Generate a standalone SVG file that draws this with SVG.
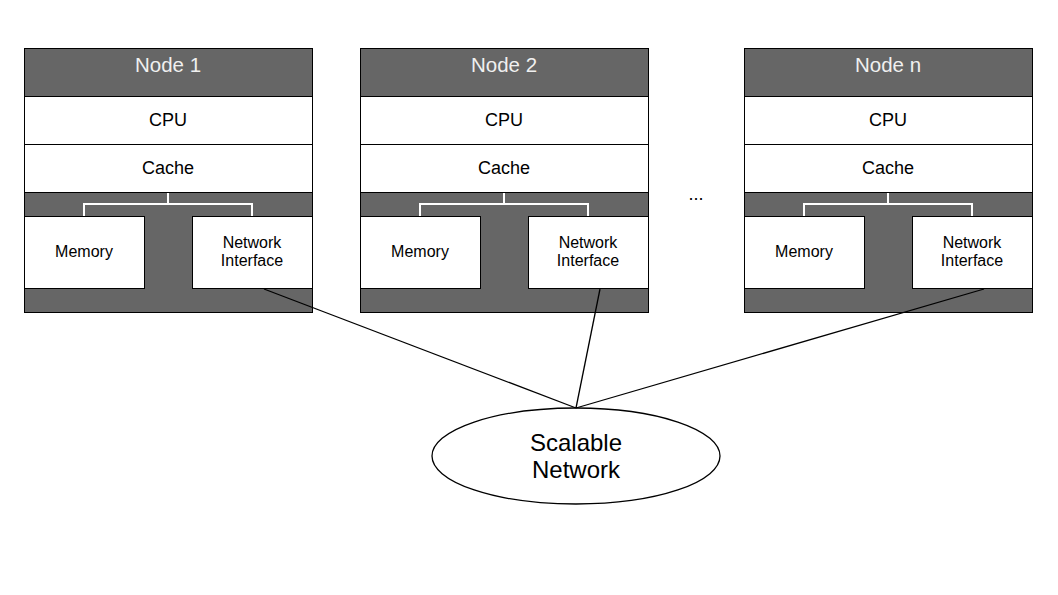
<svg xmlns="http://www.w3.org/2000/svg" width="1058" height="595" viewBox="0 0 1058 595">
<style>
.dark{fill:#666666;stroke:#000;stroke-width:1}
.box{fill:#fff;stroke:#000;stroke-width:1}
.tree{fill:none;stroke:#fff;stroke-width:2}
.hdr{font-family:"Liberation Sans",Arial,sans-serif;font-size:20.5px;fill:#f0f0f0;text-anchor:middle}
.lbl{font-family:"Liberation Sans",Arial,sans-serif;font-size:18px;fill:#000;text-anchor:middle}
.sm{font-family:"Liberation Sans",Arial,sans-serif;font-size:16px;fill:#000;text-anchor:middle}
.big{font-family:"Liberation Sans",Arial,sans-serif;font-size:24px;fill:#000;text-anchor:middle}
.conn{stroke:#000;stroke-width:1.3;fill:none}
</style>
<defs>
<g id="nodeTpl">
<rect class="dark" x="0.5" y="0.5" width="288" height="264"/>
<rect class="box" x="0.5" y="48.5" width="288" height="48"/>
<rect class="box" x="0.5" y="96.5" width="288" height="48"/>
<path class="tree" d="M144 145V156M60 168V156H228V168"/>
<rect class="box" x="0.5" y="168.5" width="120" height="72"/>
<rect class="box" x="168.5" y="168.5" width="120" height="72"/>
<text class="lbl" x="144" y="78">CPU</text>
<text class="lbl" x="144" y="126">Cache</text>
<text class="sm" x="60" y="209">Memory</text>
<text class="sm" x="228" y="200">Network</text>
<text class="sm" x="228" y="218">Interface</text>
</g>
</defs>
<rect width="1058" height="595" fill="#fff"/>
<g id="node1" transform="translate(24,48)">
<use href="#nodeTpl"/>
<text class="hdr" x="144" y="24">Node 1</text>
</g>
<g id="node2" transform="translate(360,48)">
<use href="#nodeTpl"/>
<text class="hdr" x="144" y="24">Node 2</text>
</g>
<g id="noden" transform="translate(744,48)">
<use href="#nodeTpl"/>
<text class="hdr" x="144" y="24">Node n</text>
</g>
<text id="dots" class="lbl" x="696" y="200">...</text>
<g id="network">
<ellipse cx="576" cy="456" rx="144" ry="48" fill="#fff" stroke="#000" stroke-width="1.3"/>
<text class="big" x="576" y="451">Scalable</text>
<text class="big" x="576" y="478">Network</text>
</g>
<g id="connectors">
<line class="conn" x1="264" y1="289" x2="576" y2="408"/>
<line class="conn" x1="600" y1="289" x2="576" y2="408"/>
<line class="conn" x1="984" y1="289" x2="576" y2="408"/>
</g>
</svg>
